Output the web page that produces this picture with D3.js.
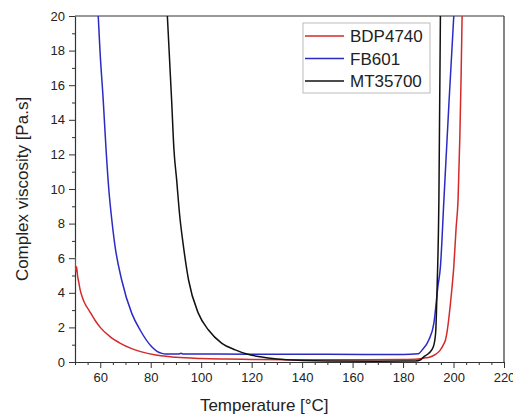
<!DOCTYPE html>
<html>
<head>
<meta charset="utf-8">
<script src="https://cdn.jsdelivr.net/npm/d3@7"></script>
<style>
  body { margin: 0; background: #fff; }
  text { font-family: "Liberation Sans", Arial, sans-serif; }
</style>
</head>
<body>
<div id="chart"></div>
<script>
// Series: [temperature °C, complex viscosity Pa.s]
const bdp4740 = [
  [50, 6.1], [50.3, 5.2], [50.6, 5.5], [51, 5.0], [51.5, 4.6], [52, 4.2], [53, 3.7],
  [54, 3.35], [55.5, 3.0], [58, 2.4], [60, 2.0], [64, 1.45], [68, 1.08], [72, 0.8],
  [76, 0.6], [82, 0.4], [90, 0.27], [100, 0.2], [110, 0.17], [120, 0.15], [140, 0.13],
  [160, 0.13], [180, 0.15], [186, 0.18], [189, 0.24], [191, 0.3], [193, 0.45],
  [194.8, 0.7], [196, 1.0], [196.8, 1.27], [197.5, 1.8], [198.2, 2.6], [199.2, 4],
  [200.1, 5.5], [201, 7.7], [201.8, 9.4], [202.5, 13], [203, 16.5], [203.4, 20]
];
const fb601 = [
  [59.2, 20], [59.9, 18], [61.2, 15.1], [62.3, 12.3], [63.5, 9.8], [64.3, 8.6],
  [65.9, 6.66], [68.5, 4.74], [72.5, 2.81], [75.8, 1.85], [80.4, 0.88], [82.5, 0.62],
  [84.4, 0.5], [86, 0.46], [91, 0.46], [92, 0.5], [93, 0.46], [100, 0.46], [120, 0.45],
  [150, 0.45], [180, 0.43], [186, 0.47], [187.6, 0.7], [190.2, 1.27], [192.2, 2.23],
  [193.8, 4.35], [194.8, 5.5], [196.2, 9.4], [198.2, 15], [200.1, 20]
];
const mt35700 = [
  [86.6, 20], [88.3, 15.1], [89.2, 12.3], [90.3, 10.5], [91.4, 8.6], [93.0, 6.66],
  [95, 4.74], [98.9, 2.81], [102.9, 1.85], [108.2, 1.08], [113.5, 0.7], [118.1, 0.46],
  [123.4, 0.3], [130, 0.17], [140, 0.09], [150, 0.06], [170, 0.05], [185, 0.06],
  [187, 0.13], [188.2, 0.3], [190.2, 0.5], [192, 0.88], [192.9, 1.66], [193.5, 4.35],
  [194.2, 9.4], [194.8, 20]
];

const seriesNames = ["BDP4740", "FB601", "MT35700"];
const seriesColors = ["#d42a2a", "#2b2bc4", "#111111"];
const seriesData = [bdp4740, fb601, mt35700];

const xTicks = [60, 80, 100, 120, 140, 160, 180, 200, 220];
const yTicks = [0, 2, 4, 6, 8, 10, 12, 14, 16, 18, 20];

const W = 513, H = 416;
const margin = { top: 16, right: 9, bottom: 54, left: 75 };
const iw = W - margin.left - margin.right;
const ih = H - margin.top - margin.bottom;

const svg = d3.select("#chart").append("svg")
  .attr("width", W)
  .attr("height", H);

const g = svg.append("g")
  .attr("transform", `translate(${margin.left},${margin.top})`);

const x = d3.scaleLinear().domain([50, 220]).range([0, iw]);
const y = d3.scaleLinear().domain([0, 20]).range([ih, 0]);

// minor ticks
const xMinor = d3.range(50, 221, 5).filter(v => v % 20 !== 0);
const yMinor = d3.range(1, 20, 2);

g.append("g")
  .attr("transform", `translate(0,${ih})`)
  .call(d3.axisBottom(x).tickValues(xMinor).tickSize(3).tickFormat(""))
  .call(a => a.select(".domain").remove())
  .call(a => a.selectAll("line").attr("stroke", "#333"));

g.append("g")
  .call(d3.axisLeft(y).tickValues(yMinor).tickSize(3).tickFormat(""))
  .call(a => a.select(".domain").remove())
  .call(a => a.selectAll("line").attr("stroke", "#333"));

// major axes
const xAxis = g.append("g")
  .attr("transform", `translate(0,${ih})`)
  .call(d3.axisBottom(x).tickValues(xTicks).tickSize(6).tickSizeOuter(0).tickPadding(5));

const yAxis = g.append("g")
  .call(d3.axisLeft(y).tickValues(yTicks).tickSize(6).tickSizeOuter(0).tickPadding(4));

[xAxis, yAxis].forEach(a => {
  a.selectAll("text").attr("font-size", 13).attr("fill", "#222")
    .attr("font-family", "Liberation Sans, Arial, sans-serif");
  a.selectAll("line").attr("stroke", "#333");
  a.select(".domain").attr("stroke", "#333").attr("stroke-width", 1.2);
});

// top and right frame
g.append("line").attr("x1", 0).attr("x2", iw).attr("y1", 0).attr("y2", 0)
  .attr("stroke", "#333").attr("stroke-width", 1.2);
g.append("line").attr("x1", iw).attr("x2", iw).attr("y1", 0).attr("y2", ih)
  .attr("stroke", "#333").attr("stroke-width", 1.2);

// clip
svg.append("defs").append("clipPath").attr("id", "clip")
  .append("rect").attr("width", iw).attr("height", ih);

const line = d3.line()
  .x(d => x(d[0]))
  .y(d => y(d[1]))
  .curve(d3.curveMonotoneX);

g.append("g").attr("clip-path", "url(#clip)")
  .selectAll("path")
  .data(seriesData)
  .join("path")
  .attr("d", line)
  .attr("fill", "none")
  .attr("stroke", (d, i) => seriesColors[i])
  .attr("stroke-width", 1.5);

// axis titles
svg.append("text")
  .attr("x", margin.left + x(125))
  .attr("y", 411)
  .attr("text-anchor", "middle")
  .attr("font-size", 17)
  .attr("fill", "#222")
  .text("Temperature [°C]");

svg.append("text")
  .attr("transform", `translate(28,${margin.top + ih / 2}) rotate(-90)`)
  .attr("text-anchor", "middle")
  .attr("font-size", 17)
  .attr("fill", "#222")
  .text("Complex viscosity [Pa.s]");

// legend
const lg = svg.append("g").attr("transform", "translate(303,23)");
lg.append("rect")
  .attr("width", 127).attr("height", 70)
  .attr("fill", "#fff").attr("stroke", "#bbb");

seriesNames.forEach((name, i) => {
  const yy = 13 + i * 22.5;
  lg.append("line")
    .attr("x1", 2).attr("x2", 41).attr("y1", yy).attr("y2", yy)
    .attr("stroke", seriesColors[i]).attr("stroke-width", 1.5);
  lg.append("text")
    .attr("x", 47).attr("y", yy + 6)
    .attr("font-size", 17)
    .attr("fill", "#222")
    .text(name);
});
</script>
</body>
</html>
